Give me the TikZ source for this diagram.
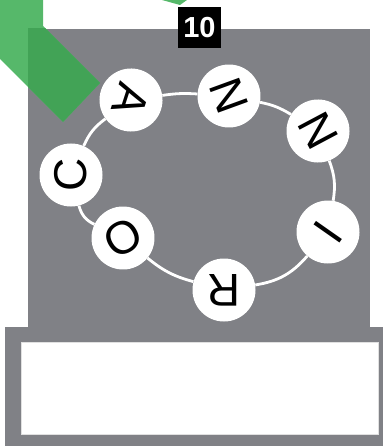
\documentclass[tikz,border=0pt]{standalone}
\usepackage{fontspec}
\setmainfont{Liberation Sans}
\usetikzlibrary{positioning}
\definecolor{panelgray}{RGB}{128,129,134}
\definecolor{leafgreen}{RGB}{86,184,106}
\definecolor{leafdark}{RGB}{66,163,86}

\begin{document}
\begin{tikzpicture}[x=1pt,y=-1pt]

\tikzset{letter/.style = {shape=circle,fill=white,minimum size=63pt,inner sep=0pt,font=\fontsize{46}{46}\selectfont}}
\tikzset{ring/.style = {draw=white,line width=2.8pt}}
\useasboundingbox (0,0) rectangle (383,446);
% panel
\fill[panelgray] (28,29) rectangle (370,330);
\fill[panelgray] (5,327) rectangle (383,446);
\filldraw[fill=white,draw=black!12,line width=0.6pt] (21,342) rectangle (378,434);
% green bits
\fill[leafgreen] (0,0) -- (43,0) -- (43,26) -- (100,83) -- (63,122) -- (0,59) -- cycle;
\begin{scope}
\clip (28,29) rectangle (370,330);
\fill[leafdark] (0,0) -- (43,0) -- (43,26) -- (100,83) -- (63,122) -- (0,59) -- cycle;
\end{scope}
\fill[leafgreen] (162,0) -- (187,0) -- (180,5) -- cycle;
% number
\node[fill=black,text=white,font=\fontsize{29}{29}\selectfont\bfseries,minimum width=43pt,minimum height=41pt,inner sep=0pt] (num) at (199.5,27.5) {10};
% vertices
\node[letter,rotate=-108] (a)  at (131,100) {A};
\node[letter,rotate=-70]  (n1) at (229,96)  {N};
\node[letter,rotate=-62]  (n2) at (318,131) {N};
\node[letter,rotate=55]   (i)  at (328,232) {I};
\node[letter,rotate=180]  (r)  at (224,290) {R};
\node[letter,rotate=30]   (o)  at (123,238) {O};
\node[letter,rotate=90]   (c)  at (71,175)  {C};
%edges
\path (a) edge[ring,bend left=6] (n1);
\path (n1) edge[ring,bend left=10] (n2);
\path (n2) edge[ring,bend left=15] (i);
\path (i) edge[ring,bend left=20] (r);
\path (r) edge[ring,bend left=12] (o);
\path (o) edge[ring,bend left=25] (c);
\path (c) edge[ring,bend left=15] (a);
\end{tikzpicture}
\end{document}
